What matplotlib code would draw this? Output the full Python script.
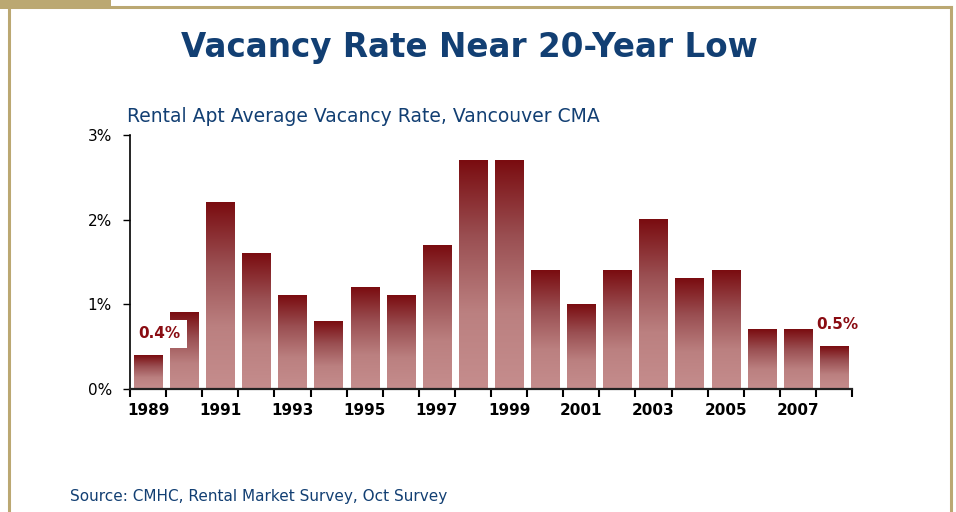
import matplotlib
matplotlib.use('Agg')
import matplotlib.pyplot as plt
import numpy as np
from matplotlib.patches import Rectangle
from matplotlib.lines import Line2D
from matplotlib.colors import LinearSegmentedColormap

years = list(range(1989, 2009))
vacancy = [0.4, 0.9, 2.2, 1.6, 1.1, 0.8, 1.2, 1.1, 1.7, 2.7,
           2.7, 1.4, 1.0, 1.4, 2.0, 1.3, 1.4, 0.7, 0.7, 0.5]
ytick_vals = [0, 1, 2, 3]
ytick_labels = ['0%', '1%', '2%', '3%']

navy = '#123f73'
tan = '#bba872'
darkred = '#8a0c12'

plt.rcParams['font.family'] = ['DejaVu Sans']

W, H = 956, 512
fig = plt.figure(figsize=(W / 100, H / 100), dpi=100)

def fx(px):
    return px / W

def fy(py):
    return 1 - py / H

# frame
fig.add_artist(Rectangle((0, fy(9)), fx(111), fy(0) - fy(9), transform=fig.transFigure,
                         color=tan, lw=0))
for xs, ys in [([9, 9], [7, 512]), ([9, 951], [7, 7]), ([951, 951], [7, 512])]:
    fig.add_artist(Line2D([fx(v) for v in xs], [fy(v) for v in ys], transform=fig.transFigure,
                          color=tan, lw=2.2))

ax = fig.add_axes([fx(130), fy(389), fx(852) - fx(130), fy(135) - fy(389)])

cmap = LinearSegmentedColormap.from_list('bar', ['#c58d8d', '#bb8080', '#9a4f52', '#7a0c10'])
grad = np.linspace(0, 1, 256).reshape(-1, 1)
w = 0.78
for i, v in enumerate(vacancy):
    ax.imshow(grad, extent=[i - w / 2, i + w / 2, 0, v], origin='lower', cmap=cmap,
              aspect='auto', interpolation='bilinear', zorder=2)

ax.set_xlim(-0.5, len(years) - 0.5)
ax.set_ylim(0, 3)

for s in ['top', 'right']:
    ax.spines[s].set_visible(False)
ax.spines['left'].set_linewidth(1.2)
ax.spines['bottom'].set_linewidth(1.6)
ax.spines['bottom'].set_color('#222222')

ax.set_yticks(ytick_vals)
ax.set_yticklabels(ytick_labels, fontsize=11)
ax.tick_params(axis='y', length=5, width=1, pad=8)

ax.set_xticks(np.arange(len(years) + 1) - 0.5)
ax.set_xticklabels([])
ax.tick_params(axis='x', which='major', length=6, width=1.5)
ax.set_xticks(range(0, len(years), 2), minor=True)
ax.set_xticklabels([str(y) for y in years[::2]], minor=True, fontsize=11, fontweight='bold')
ax.tick_params(axis='x', which='minor', length=0, pad=10)

ax.text(0.3, 0.65, '0.4%', ha='center', va='center', fontsize=11, fontweight='bold',
        color=darkred, bbox=dict(facecolor='white', edgecolor='none', pad=5), zorder=5)
ax.text(19.1, 0.76, '0.5%', ha='center', va='center', fontsize=11, fontweight='bold',
        color=darkred, zorder=5)

fig.text(fx(469), fy(47), 'Vacancy Rate Near 20-Year Low', ha='center', va='center',
         fontsize=23.5, fontweight='bold', color=navy)
fig.text(fx(127), fy(117), 'Rental Apt Average Vacancy Rate, Vancouver CMA', ha='left',
         va='center', fontsize=13.5, color=navy)
fig.text(fx(70), fy(496), 'Source: CMHC, Rental Market Survey, Oct Survey', ha='left',
         va='center', fontsize=11, color=navy)

fig.savefig('out.png', dpi=100)
